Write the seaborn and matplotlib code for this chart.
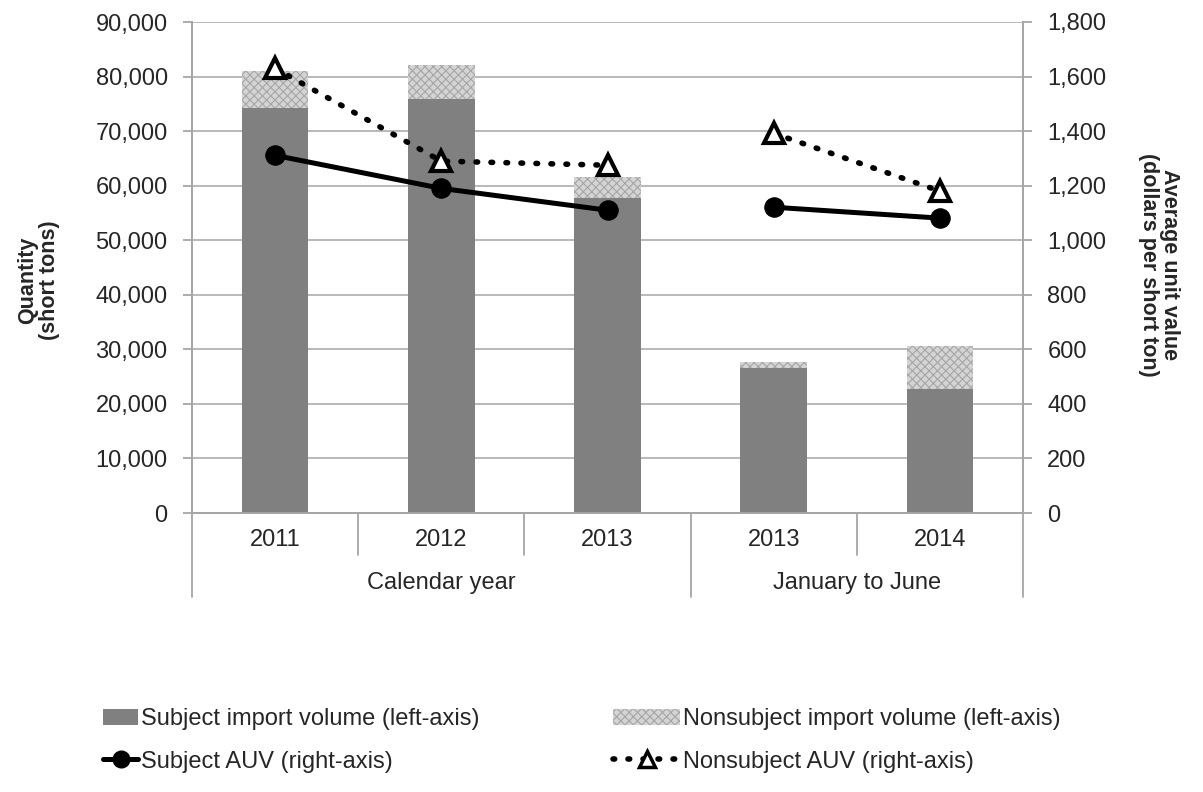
import matplotlib
matplotlib.use("Agg")
import matplotlib.pyplot as plt
import matplotlib.transforms as mtransforms
from matplotlib.patches import Patch
from matplotlib.lines import Line2D
import seaborn as sns
import pandas as pd

# Data
periods = ["CY 2011", "CY 2012", "CY 2013", "JJ 2013", "JJ 2014"]
year_labels = ["2011", "2012", "2013", "2013", "2014"]
groups = ["Calendar year", "Calendar year", "Calendar year", "January to June", "January to June"]
subject_vol = [74200, 75800, 57700, 26500, 22700]
nonsubject_vol = [6800, 6400, 3800, 1100, 7900]
subject_auv = [1311, 1190, 1110, 1121, 1081]
nonsubject_auv = [1630, 1290, 1275, 1392, 1180]

df = pd.DataFrame({
    "period": periods,
    "year": year_labels,
    "group": groups,
    "subject": subject_vol,
    "nonsubject": nonsubject_vol,
    "subject_auv": subject_auv,
    "nonsubject_auv": nonsubject_auv,
})
df["total"] = df["subject"] + df["nonsubject"]
df["pos"] = range(len(df))

sns.set_style("white")
plt.rcParams["font.family"] = ["Liberation Sans", "DejaVu Sans"]
plt.rcParams["hatch.linewidth"] = 0.8

FS = 17
GRID = "#b3b3b3"
DOTS = (0, (0.3, 2.4))

fig = plt.figure(figsize=(12.03, 7.92), dpi=100)
ax = fig.add_axes([192 / 1203, 1 - 513 / 792, (1023 - 192) / 1203, (513 - 22) / 792])

# stacked bars: total first (hatched), subject drawn on top
sns.barplot(data=df, x="period", y="total", order=periods, ax=ax, color="#d4d4d4",
            width=0.4, edgecolor="#a6a6a6", linewidth=0, hatch="xxxx", saturation=1, zorder=2)
sns.barplot(data=df, x="period", y="subject", order=periods, ax=ax, color="#808080",
            width=0.4, linewidth=0, saturation=1, zorder=3)

ax.set_ylim(0, 90000)
ax.set_yticks(range(0, 90001, 10000))
ax.set_yticklabels([f"{v:,}" for v in range(0, 90001, 10000)], fontsize=FS)
ax.set_xlim(-0.5, 4.5)
ax.set_xticks([])
ax.set_xlabel("")
ax.set_ylabel("")
ax.yaxis.grid(True, color=GRID, linewidth=1.3)
ax.set_axisbelow(True)
for s in ax.spines.values():
    s.set_color("#a6a6a6")
    s.set_linewidth(1.3)
ax.spines["top"].set_visible(False)
ax.tick_params(axis="y", length=6.5, color="#a6a6a6", width=1.3, pad=11, direction="out")

# right axis with unit values
ax2 = ax.twinx()
for g, sub in df.groupby("group"):
    sns.lineplot(data=sub, x="pos", y="subject_auv", ax=ax2, color="black", linewidth=3.6,
                 marker="o", markersize=14, markeredgecolor="black", zorder=5)
    sns.lineplot(data=sub, x="pos", y="nonsubject_auv", ax=ax2, color="black", linewidth=4,
                 linestyle=DOTS, dash_capstyle="round", marker="^", markersize=15,
                 markerfacecolor="white", markeredgecolor="black", markeredgewidth=3, zorder=5)
ax2.set_ylim(0, 1800)
ax2.set_yticks(range(0, 1801, 200))
ax2.set_yticklabels([f"{v:,}" for v in range(0, 1801, 200)], fontsize=FS)
ax2.set_xlim(-0.5, 4.5)
ax2.set_xlabel("")
ax2.set_ylabel("")
for s in ax2.spines.values():
    s.set_color("#a6a6a6")
    s.set_linewidth(1.3)
ax2.spines["top"].set_visible(False)
ax2.tick_params(axis="y", length=6.5, color="#a6a6a6", width=1.3, pad=11, direction="out")

# two-level category axis
trans = mtransforms.blended_transform_factory(ax.transData, ax.transAxes)
for i, lab in enumerate(year_labels):
    ax.text(i, -27 / 491, lab, transform=trans, ha="center", va="center", fontsize=FS)
for x0, x1, name in [(-0.5, 2.5, "Calendar year"), (2.5, 4.5, "January to June")]:
    ax.text((x0 + x1) / 2, -70 / 491, name, transform=trans, ha="center", va="center", fontsize=FS)
for x in [0.5, 1.5, 3.5]:
    ax.plot([x, x], [0, -42 / 491], transform=trans, color="#a6a6a6", lw=1.3, clip_on=False)
for x in [-0.5, 2.5, 4.5]:
    ax.plot([x, x], [0, -84 / 491], transform=trans, color="#a6a6a6", lw=1.3, clip_on=False)

fig.text(39 / 1203, 1 - 280 / 792, "Quantity\n(short tons)", rotation=90, ha="center",
         va="center", fontsize=15.5, fontweight="bold", multialignment="center", linespacing=1.05)
fig.text(1159 / 1203, 1 - 265 / 792, "Average unit value\n(dollars per short ton)", rotation=270,
         ha="center", va="center", fontsize=15.5, fontweight="bold", multialignment="center",
         linespacing=1.05)

# legend, two columns with different handle lengths
col1 = [Patch(facecolor="#808080", edgecolor="none"),
        Line2D([], [], color="black", lw=3.6, marker="o", markersize=12)]
col2 = [Patch(facecolor="#d4d4d4", edgecolor="#a6a6a6", linewidth=0, hatch="xxxx"),
        Line2D([], [], color="black", lw=4, linestyle=DOTS, dash_capstyle="round",
               marker="^", markersize=11, markerfacecolor="white", markeredgewidth=2.5)]
leg1 = fig.legend(col1, ["Subject import volume (left-axis)", "Subject AUV (right-axis)"],
                  frameon=False, fontsize=FS, loc="center left",
                  bbox_to_anchor=(103 / 1203, 1 - 740.5 / 792), borderpad=0, borderaxespad=0,
                  handlelength=1.5, handletextpad=0.12, labelspacing=0.85)
leg2 = fig.legend(col2, ["Nonsubject import volume (left-axis)", "Nonsubject AUV (right-axis)"],
                  frameon=False, fontsize=FS, loc="center left",
                  bbox_to_anchor=(613 / 1203, 1 - 740.5 / 792), borderpad=0, borderaxespad=0,
                  handlelength=2.85, handletextpad=0.12, labelspacing=0.85)

fig.savefig("out.png", dpi=100)
